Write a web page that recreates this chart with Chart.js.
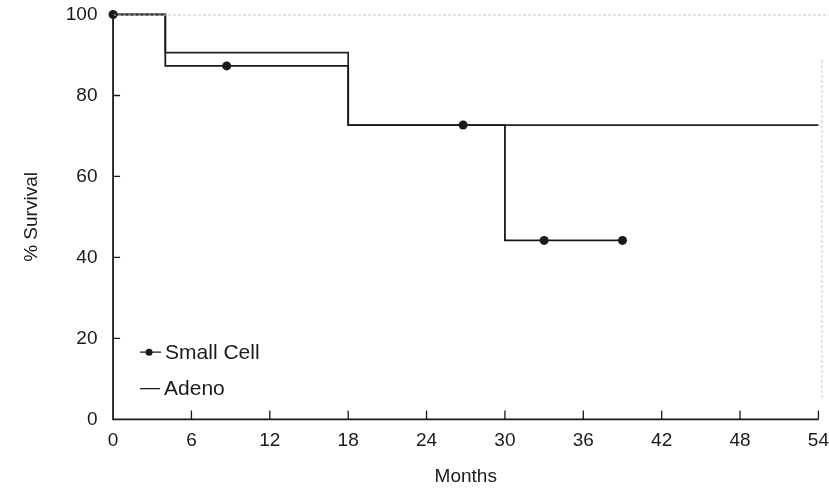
<!DOCTYPE html>
<html>
<head>
<meta charset="utf-8">
<script src="https://cdn.jsdelivr.net/npm/chart.js@4"></script>
<style>
  html, body { margin: 0; padding: 0; background: #fff; }
  #wrap { width: 829px; height: 492px; }
</style>
</head>
<body>
<div id="wrap"><canvas id="kmChart" width="829" height="492"></canvas></div>
<script>
// survival steps (months, % survival)
var smallMonths = [0, 4, 8.7, 18, 26.8, 30, 33, 39];
var smallSurv   = [100, 87.3, 87.3, 72.7, 72.7, 44.2, 44.2, 44.2];
var smallCensor = [true, false, true, false, true, false, true, true];

var adenoMonths = [0, 4, 18, 54];
var adenoSurv   = [100, 90.6, 72.7, 72.7];

var xTicks = [0, 6, 12, 18, 24, 30, 36, 42, 48, 54];
var yTicks = [0, 20, 40, 60, 80, 100];

var legendLabels = ['Small Cell', 'Adeno'];

function toPoints(xs, ys){
	var pts = [];
	for (var i = 0; i < xs.length; i++) pts.push({x: xs[i], y: ys[i]});
	return pts;
}

var fontFam = "'Liberation Sans', Arial, Helvetica, sans-serif";
var ink = '#1a1a1a';

// inward tick marks, faint frame and the in-plot legend
var decor = {
	id: 'decor',
	afterDraw: function(chart){
		var ctx = chart.ctx, a = chart.chartArea;
		var xs = chart.scales.x, ys = chart.scales.y;
		ctx.save();
		// faint top and right frame
		ctx.strokeStyle = '#c8c8c8';
		ctx.lineWidth = 1;
		ctx.setLineDash([3, 2]);
		ctx.beginPath();
		ctx.moveTo(a.left, a.top + 0.5); ctx.lineTo(829, a.top + 0.5);
		ctx.moveTo(a.right + 3.5, 60); ctx.lineTo(a.right + 3.5, a.bottom - 20);
		ctx.stroke();
		ctx.setLineDash([]);
		// axes
		ctx.strokeStyle = ink;
		ctx.lineWidth = 1.8;
		ctx.beginPath();
		ctx.moveTo(a.left, a.top); ctx.lineTo(a.left, a.bottom);
		ctx.lineTo(a.right, a.bottom);
		ctx.stroke();
		ctx.lineWidth = 1.3;
		ctx.beginPath();
		xTicks.forEach(function(t){
			if (t === 0) return;
			var px = xs.getPixelForValue(t);
			ctx.moveTo(px, a.bottom); ctx.lineTo(px, a.bottom - 9);
		});
		yTicks.forEach(function(t){
			if (t === 0 || t === 100) return;
			var py = ys.getPixelForValue(t);
			ctx.moveTo(a.left, py); ctx.lineTo(a.left + 7, py);
		});
		ctx.stroke();
		// legend
		var lx = a.left + 27;
		var ly1 = ys.getPixelForValue(16.6);
		var ly2 = ys.getPixelForValue(7.6);
		ctx.lineWidth = 1.3;
		ctx.beginPath();
		ctx.moveTo(lx, ly1); ctx.lineTo(lx + 21, ly1);
		ctx.moveTo(lx, ly2); ctx.lineTo(lx + 20, ly2);
		ctx.stroke();
		ctx.fillStyle = ink;
		ctx.beginPath();
		ctx.arc(lx + 9, ly1, 3.5, 0, Math.PI * 2);
		ctx.fill();
		ctx.font = '21px ' + fontFam;
		ctx.textBaseline = 'middle';
		ctx.fillText(legendLabels[0], lx + 25, ly1 + 1);
		ctx.fillText(legendLabels[1], lx + 24, ly2 + 1);
		ctx.restore();
	}
};

new Chart('kmChart', {
	type: 'line',
	data: {
		datasets: [{
			label: legendLabels[0],
			data: toPoints(smallMonths, smallSurv),
			stepped: true,
			clip: false,
			borderColor: ink,
			borderWidth: 1.8,
			backgroundColor: ink,
			pointRadius: smallCensor.map(function(c){ return c ? 4.5 : 0; }),
			pointBorderWidth: 0,
			fill: false
		}, {
			label: legendLabels[1],
			data: toPoints(adenoMonths, adenoSurv),
			stepped: true,
			clip: false,
			borderColor: '#222',
			borderWidth: 1.7,
			pointRadius: 0,
			fill: false
		}]
	},
	options: {
		responsive: false,
		animation: false,
		layout: { padding: { left: 20, right: 0, top: 0, bottom: 4 } },
		plugins: { legend: { display: false }, tooltip: { enabled: false } },
		scales: {
			x: {
				type: 'linear',
				min: 0, max: 54,
				afterBuildTicks: function(s){ s.ticks = xTicks.map(function(v){ return {value: v}; }); },
				grid: { display: false, drawTicks: false },
				border: { display: false },
				ticks: { color: ink, padding: 0, font: { size: 19, family: fontFam, lineHeight: 2.2 }, maxRotation: 0 },
				title: { display: true, text: 'Months', color: ink, padding: { top: 4, bottom: 0 }, font: { size: 19, family: fontFam } }
			},
			y: {
				min: 0, max: 100,
				afterBuildTicks: function(s){ s.ticks = yTicks.map(function(v){ return {value: v}; }); },
				grid: { display: false, drawTicks: false },
				border: { display: false },
				ticks: {
					color: ink, padding: 5,
					font: { size: 19, family: fontFam, lineHeight: 1 },
					callback: function(v){ return v + '  '; }
				},
				title: { display: true, text: '% Survival', color: ink, padding: { top: 0, bottom: 18 }, font: { size: 19, family: fontFam } }
			}
		}
	},
	plugins: [decor]
});
</script>
</body>
</html>
